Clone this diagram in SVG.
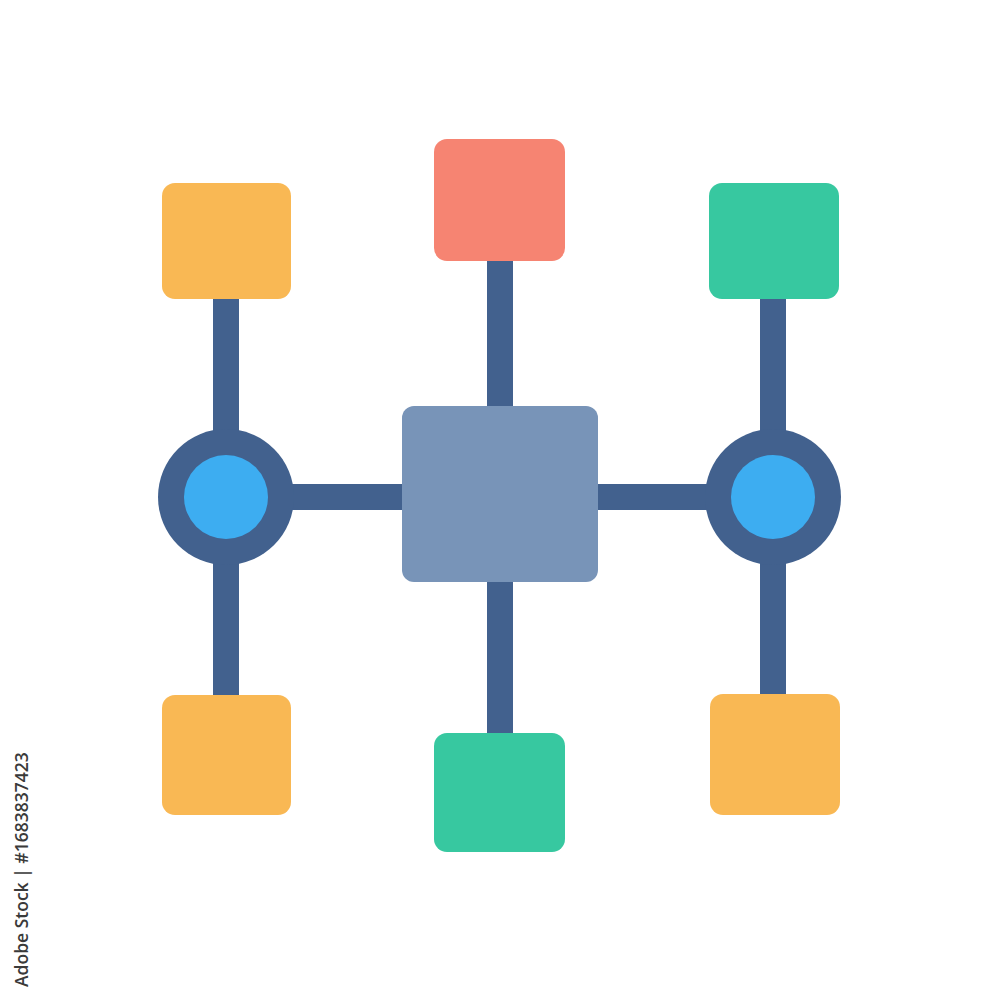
<svg xmlns="http://www.w3.org/2000/svg" width="1000" height="1000" viewBox="0 0 1000 1000">
<style>
.link{stroke:#42618E;stroke-width:26;fill:none}
.orange{fill:#F9B854}
.red{fill:#F68472}
.green{fill:#37C8A0}
.hub-outer{fill:#42618E}
.hub-inner{fill:#3DADF1}
.center{fill:#7894B8}
.credit{font-family:"Open Sans","Liberation Sans",sans-serif;font-size:17.5px;font-weight:600;fill:#3a3a3a}
</style>
<rect width="1000" height="1000" fill="#ffffff"/>
<g id="connectors">
<line class="link" x1="226" y1="295" x2="226" y2="440"/>
<line class="link" x1="226" y1="555" x2="226" y2="700"/>
<line class="link" x1="500" y1="255" x2="500" y2="412"/>
<line class="link" x1="500" y1="578" x2="500" y2="738"/>
<line class="link" x1="773" y1="295" x2="773" y2="440"/>
<line class="link" x1="773" y1="555" x2="773" y2="700"/>
<line class="link" x1="285" y1="497" x2="408" y2="497"/>
<line class="link" x1="592" y1="497" x2="715" y2="497"/>
</g>
<g id="node-top-left"><rect class="orange" x="162" y="183" width="129" height="116" rx="13"/></g>
<g id="node-top-center"><rect class="red" x="434" y="139" width="131" height="122" rx="13"/></g>
<g id="node-top-right"><rect class="green" x="709" y="183" width="130" height="116" rx="13"/></g>
<g id="node-center"><rect class="center" x="402" y="406" width="196" height="176" rx="12"/></g>
<g id="hub-left"><circle class="hub-outer" cx="226" cy="497" r="68"/><circle class="hub-inner" cx="226" cy="497" r="42"/></g>
<g id="hub-right"><circle class="hub-outer" cx="773" cy="497" r="68"/><circle class="hub-inner" cx="773" cy="497" r="42"/></g>
<g id="node-bottom-left"><rect class="orange" x="162" y="695" width="129" height="120" rx="13"/></g>
<g id="node-bottom-center"><rect class="green" x="434" y="733" width="131" height="119" rx="13"/></g>
<g id="node-bottom-right"><rect class="orange" x="710" y="694" width="130" height="121" rx="13"/></g>
<text class="credit" transform="translate(28,987) rotate(-90)">Adobe Stock | #1683837423</text>
</svg>
